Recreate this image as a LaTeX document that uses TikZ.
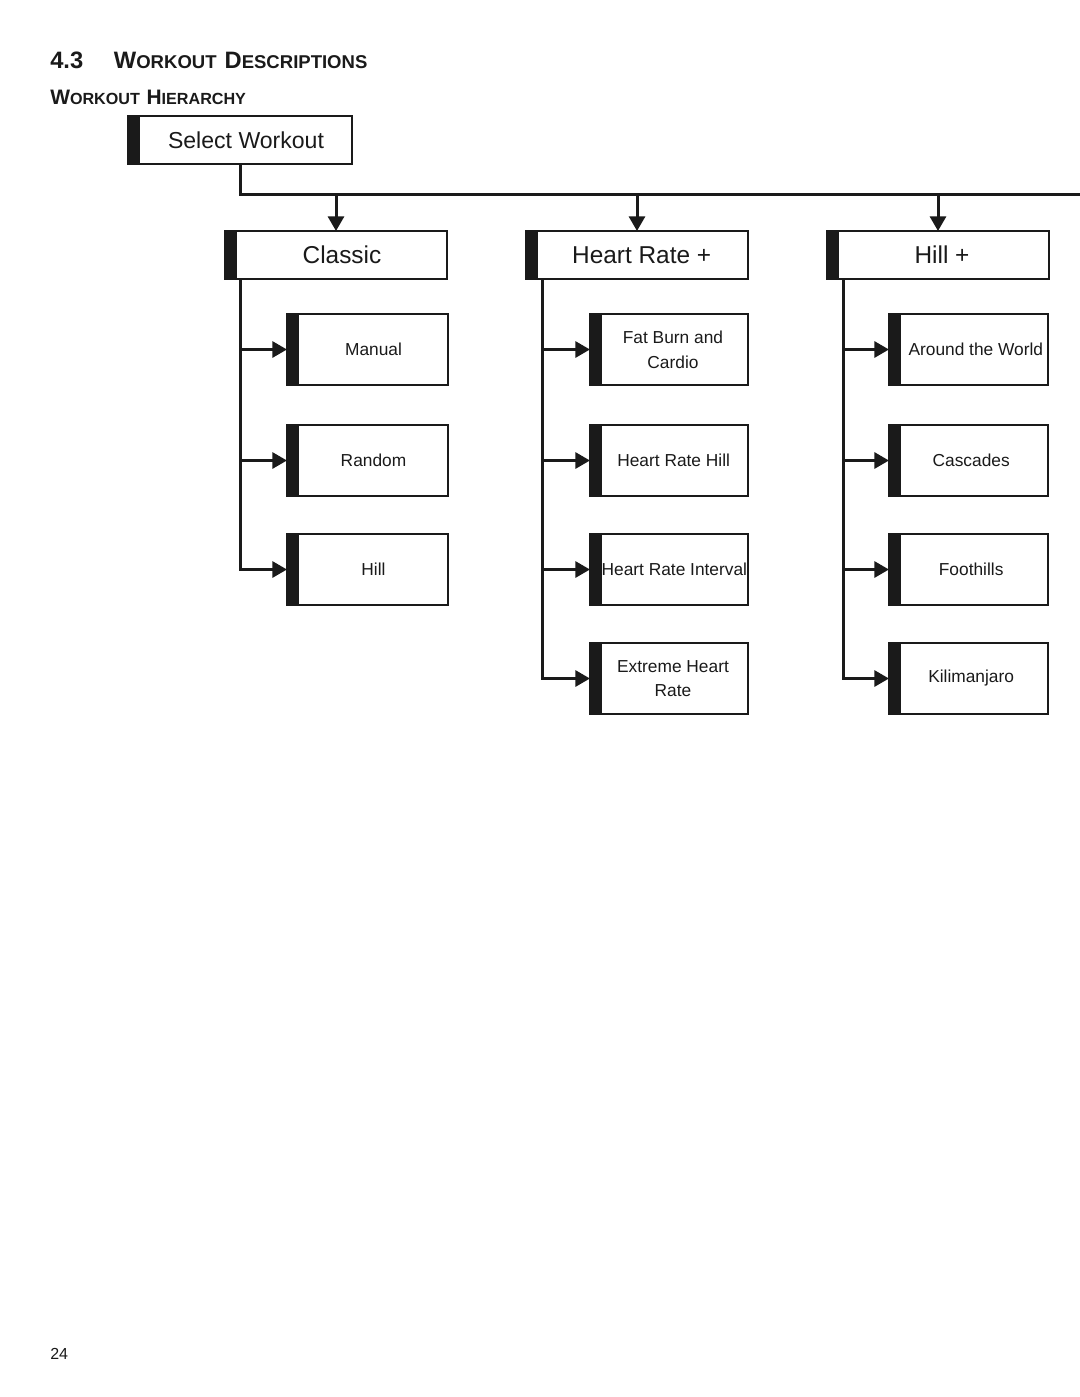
\documentclass[tikz,border=0pt]{standalone}
\usepackage{fontspec}
\setmainfont{Liberation Sans}
\usetikzlibrary{arrows.meta}
\definecolor{ink}{RGB}{26,26,26}
\newcommand\bigC[1]{{\fontsize{17.8pt}{20pt}\selectfont #1}}
\newcommand\smC[1]{{\fontsize{13.9pt}{16pt}\selectfont #1}}
\newcommand\bigS[1]{{\fontsize{15.7pt}{18pt}\selectfont #1}}
\newcommand\smS[1]{{\fontsize{12.1pt}{14pt}\selectfont #1}}
\tikzset{
  box/.style={draw=ink, line width=1.5pt, fill=white, rectangle, inner sep=0pt, outer sep=0pt,
    anchor=north west, minimum width=#1,
    path picture={\fill[ink] (path picture bounding box.north west) rectangle ([xshift=9pt]path picture bounding box.south west);}},
  topbox/.style={box=168pt, minimum height=36pt},
  lvbox/.style={box=166.5pt, minimum height=36pt},
  chbox/.style={box=#1, minimum height=53.25pt},
  chbox/.default=119.25pt,
  toptxt/.style={inner sep=0pt, text=ink, font=\fontsize{17.3pt}{20pt}\selectfont},
  lvtxt/.style={inner sep=0pt, text=ink, font=\fontsize{18.3pt}{21pt}\selectfont},
  chtxt/.style={inner sep=0pt, text=ink, align=center, font=\fontsize{13pt}{18.5pt}\selectfont},
  conn/.style={draw=ink, line width=2.25pt},
  tip/.style={-{Triangle[length=11pt,width=12pt]}},
}
\begin{document}
\begin{tikzpicture}[x=0.75pt,y=-0.75pt]
\fill[white] (0,0) rectangle (1080,1397);
\useasboundingbox (0,0) rectangle (1080,1397);

% headings
\node[anchor=base west, inner sep=0pt, text=ink, font=\bfseries] (h1) at (50,68)
  {\bigC{4.3}\hspace{23pt}\bigC{W}\smC{ORKOUT}\hspace{6pt}\bigC{D}\smC{ESCRIPTIONS}};
\node[anchor=base west, inner sep=0pt, text=ink, font=\bfseries] (h2) at (50,104)
  {\bigS{W}\smS{ORKOUT}\hspace{5pt}\bigS{H}\smS{IERARCHY}};
\node[anchor=base west, inner sep=0pt, text=ink, font=\fontsize{12pt}{14pt}\selectfont] (pg) at (50,1359) {24};

% top box
\node[topbox] (select) at (128,116) {};
\node[toptxt] (select-t) at ([xshift=4.5pt]select.center) {Select Workout};

% level 1
\node[lvbox] (classic) at (225,231) {};
\node[lvtxt] (classic-t) at ([xshift=4.5pt]classic.center) {Classic};
\node[lvbox] (hr) at (526,231) {};
\node[lvtxt] (hr-t) at ([xshift=3.5pt]hr.center) {Heart Rate +};
\node[lvbox] (hillp) at (827,231) {};
\node[lvtxt] (hillp-t) at ([xshift=3pt]hillp.center) {Hill +};

% classic children
\node[chbox=120.75pt] (manual) at (287,314) {};
\node[chtxt] (manual-t) at ([xshift=4.5pt]manual.center) {Manual};
\node[chbox=120.75pt] (random) at (287,425) {};
\node[chtxt] (random-t) at ([xshift=4.5pt]random.center) {Random};
\node[chbox=120.75pt] (hill) at (287,534) {};
\node[chtxt] (hill-t) at ([xshift=4.5pt]hill.center) {Hill};

% heart rate children
\node[chbox=118.5pt] (fat) at (590,314) {};
\node[chtxt] (fat-t) at ([xshift=3pt]fat.center) {Fat Burn and\\Cardio};
\node[chbox=118.5pt] (hrh) at (590,425) {};
\node[chtxt] (hrh-t) at ([xshift=3.5pt]hrh.center) {Heart Rate Hill};
\node[chbox=118.5pt] (hri) at (590,534) {};
\node[chtxt] (hri-t) at ([xshift=4pt]hri.center) {Heart Rate Interval};
\node[chbox=118.5pt] (ehr) at (590,643) {};
\node[chtxt] (ehr-t) at ([xshift=3pt]ehr.center) {Extreme Heart\\Rate};

% hill + children
\node[chbox] (atw) at (889,314) {};
\node[chtxt] (atw-t) at ([xshift=5.5pt]atw.center) {Around the World};
\node[chbox] (casc) at (889,425) {};
\node[chtxt] (casc-t) at ([xshift=2pt]casc.center) {Cascades};
\node[chbox] (foot) at (889,534) {};
\node[chtxt] (foot-t) at ([xshift=2pt]foot.center) {Foothills};
\node[chbox] (kili) at (889,643) {};
\node[chtxt] (kili-t) at ([xshift=2pt]kili.center) {Kilimanjaro};

% bus
\coordinate (busL) at (240,194);
\coordinate (busR) at (1080,194);
\draw[conn] (select.south) -- (busL) -- (busR);
\draw[conn,tip] (busL -| classic.north) -- (classic.north);
\draw[conn,tip] (busL -| hr.north) -- (hr.north);
\draw[conn,tip] (busL -| hillp.north) -- (hillp.north);

% trunks
\coordinate (ct) at ([xshift=11.4pt]classic.south west);
\coordinate (ht) at ([xshift=12pt]hr.south west);
\coordinate (lt) at ([xshift=12pt]hillp.south west);
\foreach \c in {manual,random,hill}{\draw[conn,tip] (ct) |- (\c.west);}
\foreach \c in {fat,hrh,hri,ehr}{\draw[conn,tip] (ht) |- (\c.west);}
\foreach \c in {atw,casc,foot,kili}{\draw[conn,tip] (lt) |- (\c.west);}
\end{tikzpicture}
\end{document}
